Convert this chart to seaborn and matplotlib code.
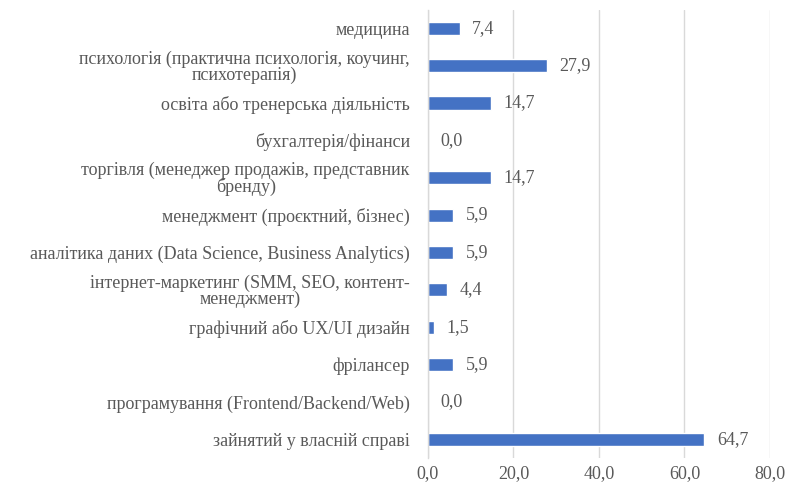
import matplotlib
matplotlib.use('Agg')
import matplotlib.pyplot as plt
import seaborn as sns
import pandas as pd

categories = [
    'медицина',
    'психологія (практична психологія, коучинг,\nпсихотерапія)',
    'освіта або тренерська діяльність',
    'бухгалтерія/фінанси',
    'торгівля (менеджер продажів, представник\nбренду)',
    'менеджмент (проєктний, бізнес)',
    'аналітика даних (Data Science, Business Analytics)',
    'інтернет-маркетинг (SMM, SEO, контент-\nменеджмент)',
    'графічний або UX/UI дизайн',
    'фрілансер',
    'програмування (Frontend/Backend/Web)',
    'зайнятий у власній справі',
]
values = [7.4, 27.9, 14.7, 0.0, 14.7, 5.9, 5.9, 4.4, 1.5, 5.9, 0.0, 64.7]
xticks = [0, 20, 40, 60, 80]

df = pd.DataFrame({'category': categories, 'value': values})

sns.set_style('white')
plt.rcParams['font.family'] = ['Liberation Serif', 'DejaVu Serif']
text_color = '#595959'
fs = 13

fig = plt.figure(figsize=(7.88, 4.82), dpi=100)
ax = fig.add_axes([0.543, 0.05, 0.434, 0.93])

sns.barplot(data=df, x='value', y='category', orient='h', color='#4472C4',
            saturation=1, width=0.35, ax=ax)

ax.set_xlim(0, 80)
ax.set_xticks(xticks)
ax.set_xticklabels([f'{t:.1f}'.replace('.', ',') for t in xticks])
ax.set_xlabel('')
ax.set_ylabel('')
ax.xaxis.grid(True, color='#D9D9D9', linewidth=1)
ax.set_axisbelow(True)

for side in ['top', 'right', 'bottom']:
    ax.spines[side].set_visible(False)
ax.spines['left'].set_color('#D9D9D9')
ax.spines['left'].set_linewidth(1)

ax.tick_params(axis='both', length=0, labelsize=fs, colors=text_color)
ax.tick_params(axis='y', pad=13)
ax.tick_params(axis='x', pad=5)
for lbl in ax.get_yticklabels():
    lbl.set_multialignment('center')
    lbl.set_linespacing(0.9)

ax.bar_label(ax.containers[0], labels=[f'{v:.1f}'.replace('.', ',') for v in values],
             padding=9, fontsize=fs, color=text_color)

fig.savefig('out.png', dpi=100)
